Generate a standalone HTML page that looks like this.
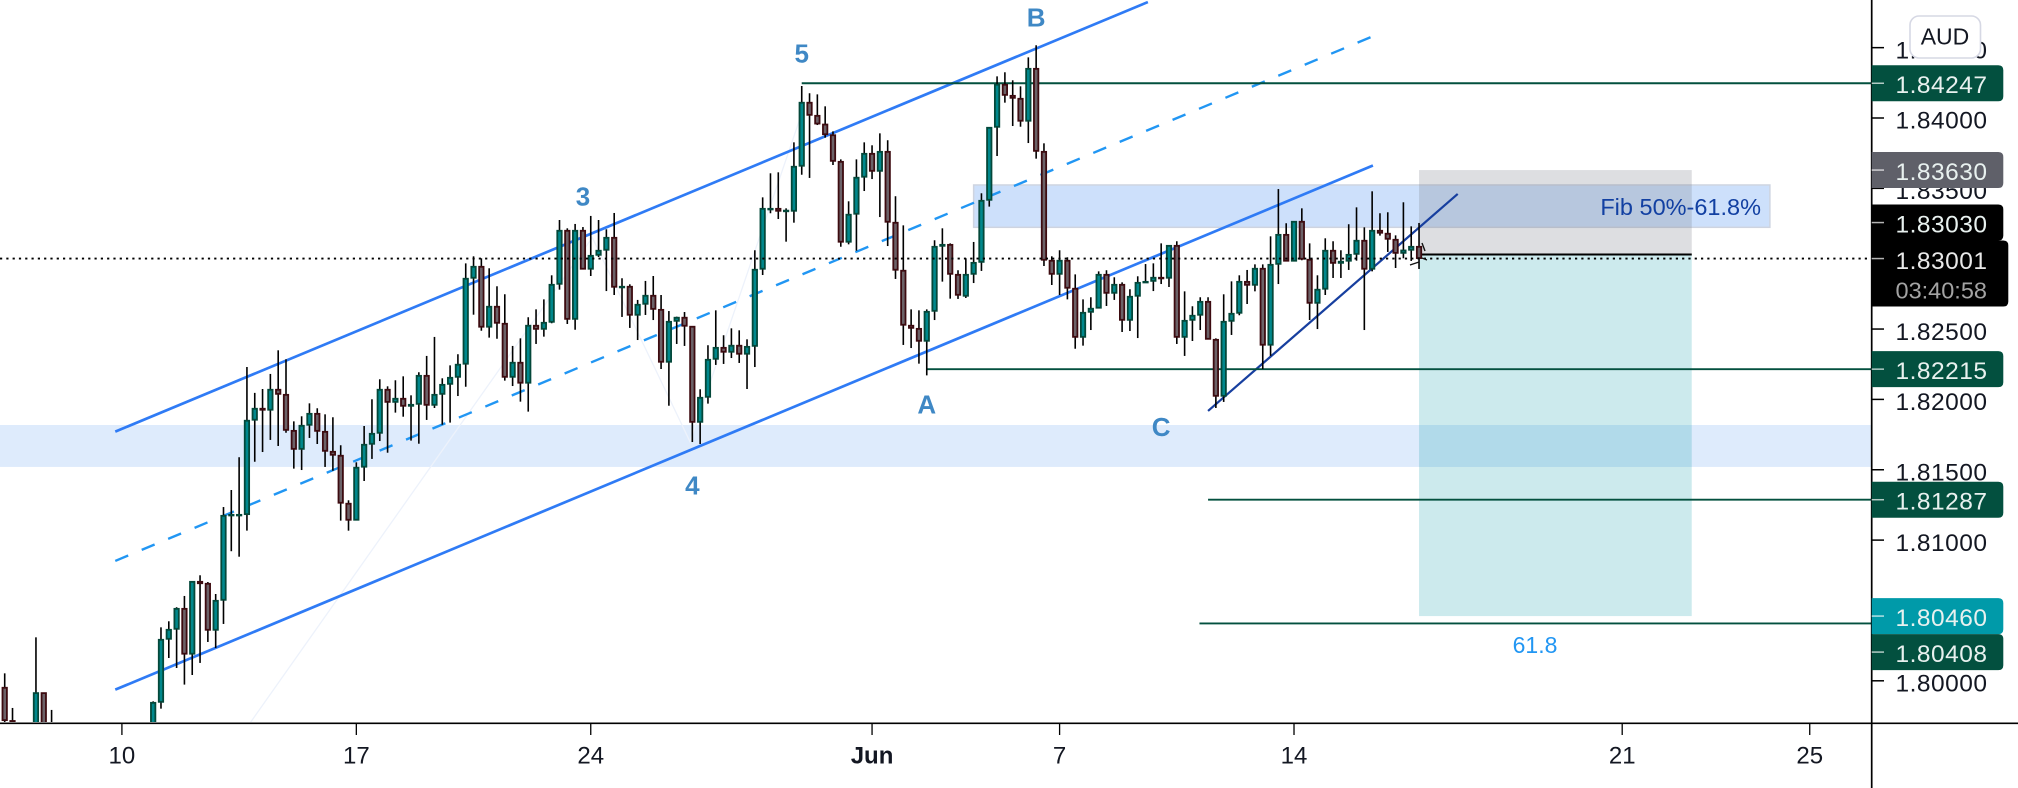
<!DOCTYPE html>
<html lang="en">
<head>
<meta charset="utf-8">
<title>AUD candlestick chart</title>
<style>
html,body{margin:0;padding:0;background:#fff;width:2018px;height:788px;overflow:hidden}
svg{display:block;font-family:"Liberation Sans",sans-serif}
</style>
</head>
<body>
<svg id="chart" width="2018" height="788" viewBox="0 0 2018 788" xmlns="http://www.w3.org/2000/svg">
  <defs>
    <clipPath id="plot-clip"><rect x="0" y="0" width="1871" height="722"></rect></clipPath>
  </defs>
</svg>
<script>
const barOpen = [
1.79954,1.79718,null,null,1.79544,1.79916,1.79508,null,null,null,
null,null,null,null,null,null,null,null,null,1.79508,
1.79847,1.80295,1.80366,1.80515,1.80189,1.80707,1.80693,1.80359,1.80572,1.81176,
1.81178,1.81181,1.81852,1.81937,1.81923,1.82072,1.82036,1.81780,1.81645,1.81816,
1.81901,1.81773,1.81631,1.81603,1.81262,1.81141,1.81518,1.81681,1.81759,1.82072,
1.81979,1.82008,1.81951,1.81965,1.82171,1.81958,1.82036,1.82107,1.82157,1.82250,
1.82861,1.82946,1.82513,1.82662,1.82541,1.82157,1.82264,1.82115,1.82527,1.82498,
1.82548,1.82818,1.83202,1.82569,1.83202,1.82925,1.83024,1.83060,1.83152,1.82797,
1.82804,1.82598,1.82676,1.82740,1.82640,1.82264,1.82555,1.82584,1.82520,1.81837,
1.82015,1.82285,1.82370,1.82335,1.82385,1.82321,1.82377,1.82925,1.83351,1.83358,
1.83337,1.83337,1.83657,1.84112,1.84019,1.83957,1.83881,1.83692,1.83117,1.83316,
1.83579,1.83749,1.83621,1.83763,1.83259,1.82918,1.82527,1.82505,1.82413,1.82626,
1.83088,1.83102,1.82889,1.82733,1.82889,1.82974,1.83415,1.83934,1.84240,1.84161,
1.84140,1.83977,1.84353,1.83763,1.82989,1.82889,1.82989,1.82790,1.82441,1.82619,
1.82648,1.82889,1.82754,1.82818,1.82562,1.82733,1.82832,1.82839,1.82868,1.82861,
1.83095,1.82441,1.82562,1.82598,1.82697,1.82427,1.82022,1.82555,1.82612,1.82839,
1.82811,1.82932,1.82385,1.82960,1.83173,1.82982,1.83266,1.82996,1.82683,1.82783,
1.83060,1.82967,1.82982,1.83031,1.83131,1.82925,1.83202,1.83181,1.83138,1.83038,
1.83060,1.83088];
const barHigh = [
1.80053,1.79807,null,null,1.80309,1.79916,1.79793,null,null,null,
null,null,null,null,null,null,null,null,null,1.79854,
1.80380,1.80423,1.80523,1.80603,1.80707,1.80750,1.80702,1.80617,1.81235,1.81356,
1.81589,1.82230,1.82046,1.82074,1.82181,1.82349,1.82285,1.81844,1.81880,1.81972,
1.81937,1.81894,1.81873,1.81674,1.81283,1.81553,1.81811,1.82001,1.82143,1.82093,
1.82136,1.82164,1.82029,1.82193,1.82309,1.82444,1.82150,1.82242,1.82321,1.82967,
1.83017,1.83003,1.82932,1.82804,1.82747,1.82380,1.82434,1.82584,1.82640,1.82711,
1.82882,1.83275,1.83216,1.83247,1.83225,1.83304,1.83275,1.83209,1.83325,1.82861,
1.82818,1.82707,1.82842,1.82877,1.82742,1.82628,1.82588,1.82621,1.82520,1.82072,
1.82385,1.82633,1.82456,1.82505,1.82491,1.82427,1.83060,1.83436,1.83607,1.83614,
1.83358,1.83827,1.84227,1.84176,1.84168,1.84083,1.83905,1.83706,1.83408,1.83706,
1.83827,1.83806,1.83891,1.83842,1.83444,1.83237,1.82640,1.82633,1.82640,1.83131,
1.83216,1.83109,1.82918,1.83003,1.83119,1.83465,1.83936,1.84296,1.84325,1.84268,
1.84225,1.84431,1.84517,1.83820,1.83017,1.83060,1.83010,1.82889,1.82711,1.82726,
1.82910,1.82918,1.82868,1.82832,1.82783,1.82875,1.82962,1.82967,1.83109,1.83095,
1.83124,1.82768,1.82662,1.82726,1.82726,1.82434,1.82747,1.82839,1.82882,1.82920,
1.82960,1.82960,1.83159,1.83495,1.83252,1.83266,1.83358,1.83109,1.82882,1.83145,
1.83124,1.83060,1.83245,1.83365,1.83223,1.83479,1.83323,1.83330,1.83166,1.83401,
1.83230,1.83254];
const barLow = [
1.79615,1.79579,null,null,1.79437,1.79402,1.79366,null,null,null,
null,null,null,null,null,null,null,null,null,1.79437,
1.79802,1.80162,1.80091,1.79973,1.80041,1.80127,1.80276,1.80233,1.80404,1.80921,
1.80882,1.81067,1.81557,1.81626,1.81712,1.81669,1.81763,1.81508,1.81498,1.81726,
1.81683,1.81520,1.81493,1.81138,1.81067,1.81141,1.81420,1.81577,1.81704,1.81621,
1.81906,1.81877,1.81707,1.81685,1.81854,1.81939,1.81820,1.81835,1.82024,1.82090,
1.82602,1.82488,1.82439,1.82431,1.82133,1.82095,1.81984,1.81913,1.82394,1.82446,
1.82541,1.82780,1.82536,1.82495,1.82925,1.82877,1.83012,1.82770,1.82742,1.82586,
1.82508,1.82422,1.82600,1.82564,1.82216,1.81955,1.82394,1.82380,1.81697,1.81683,
1.81970,1.82245,1.82252,1.82294,1.82259,1.82074,1.82230,1.82884,1.83323,1.83282,
1.83121,1.83256,1.83597,1.83574,1.83950,1.83860,1.83666,1.83085,1.83102,1.83057,
1.83481,1.83566,1.83296,1.83090,1.82856,1.82387,1.82365,1.82254,1.82171,1.82564,
1.82837,1.82716,1.82714,1.82721,1.82827,1.82913,1.83370,1.83730,1.84109,1.83943,
1.83938,1.83822,1.83711,1.82948,1.82813,1.82742,1.82711,1.82360,1.82382,1.82493,
1.82648,1.82664,1.82707,1.82479,1.82486,1.82436,1.82832,1.82770,1.82820,1.82799,
1.82394,1.82309,1.82415,1.82493,1.82427,1.81939,1.81982,1.82458,1.82598,1.82678,
1.82768,1.82216,1.82309,1.82820,1.82982,1.82982,1.82989,1.82564,1.82500,1.82742,
1.82863,1.82863,1.82920,1.82986,1.82493,1.82910,1.83164,1.83048,1.82934,1.83003,
1.82984,1.82927];
const barClose = [
1.79717,1.79700,null,null,1.79916,1.79508,1.79651,null,null,null,
null,null,null,null,null,null,null,null,null,1.79847,
1.80295,1.80366,1.80515,1.80189,1.80707,1.80690,1.80359,1.80572,1.81176,1.81183,
1.81183,1.81852,1.81937,1.81923,1.82072,1.82036,1.81780,1.81645,1.81816,1.81901,
1.81773,1.81631,1.81603,1.81262,1.81141,1.81518,1.81681,1.81759,1.82072,1.81979,
1.82008,1.81951,1.81965,1.82171,1.81958,1.82036,1.82107,1.82157,1.82250,1.82861,
1.82946,1.82513,1.82662,1.82541,1.82157,1.82264,1.82115,1.82527,1.82498,1.82548,
1.82818,1.83202,1.82569,1.83202,1.82925,1.83024,1.83060,1.83152,1.82797,1.82804,
1.82598,1.82676,1.82740,1.82640,1.82264,1.82555,1.82584,1.82520,1.81837,1.82015,
1.82285,1.82370,1.82335,1.82385,1.82321,1.82377,1.82925,1.83358,1.83358,1.83337,
1.83345,1.83657,1.84112,1.84019,1.83957,1.83881,1.83692,1.83117,1.83316,1.83579,
1.83749,1.83621,1.83763,1.83259,1.82918,1.82527,1.82505,1.82413,1.82626,1.83088,
1.83102,1.82889,1.82740,1.82889,1.82974,1.83415,1.83934,1.84240,1.84161,1.84140,
1.83977,1.84353,1.83763,1.82989,1.82889,1.82989,1.82790,1.82441,1.82619,1.82648,
1.82889,1.82754,1.82818,1.82562,1.82733,1.82832,1.82839,1.82868,1.82861,1.83095,
1.82441,1.82562,1.82598,1.82697,1.82427,1.82022,1.82555,1.82612,1.82839,1.82811,
1.82932,1.82385,1.82960,1.83173,1.82982,1.83266,1.82996,1.82683,1.82783,1.83060,
1.82967,1.82982,1.83031,1.83131,1.82925,1.83202,1.83181,1.83138,1.83038,1.83062,
1.83088,1.83001];

const priceTicks = ["1.84500","1.84000","1.83500","1.83000","1.82500","1.82000","1.81500","1.81000","1.80000"];
const timeTickBars = [15,45,75,111,135,165,207,231];
const timeTickLabels = ["10","17","24","Jun","7","14","21","25"];
const lastPrice = 1.83001;
const countdown = "03:40:58";
const tagPrices = [1.84247,1.83630,1.83030,1.82215,1.81287,1.80460,1.80408];
const levelPrices = [1.84247,1.82215,1.81287,1.80408];
const levelStartBars = [102,118,154,152.9];
const channelUpperBars = [14.15,146.3];
const channelUpperPrices = [1.81771,1.84824];
const channelLowerBars = [14.15,175.1];
const channelLowerPrices = [1.79937,1.83662];
const channelMidBars = [14.15,174.8];
const channelMidPrices = [1.80852,1.84574];
const wedgeBars = [154,185.95];
const wedgePrices = [1.81918,1.83460];
const waveBars = [31.4,75.2,87.7,101.8];
const wavePrices = [1.79700,1.83150,1.81700,1.84000];
const bandPrices = [1.81818,1.81520];
const fibBars = [124,225.9];
const fibPrices = [1.83524,1.83223];
const positionBars = [181,215.9];
const positionPrices = [1.83630,1.83030,1.80460];
const waveLabels = ["B","5","3","4","A","C"];
const waveLabelBars = [132,102,74,88,118,148];
const waveLabelPrices = [1.84650,1.84394,1.83378,1.81324,1.81900,1.81740];

const NS = "http://www.w3.org/2000/svg";
const svg = document.getElementById("chart");
const xOfBar = i => 4.7 + 7.814 * i;
const yOfPrice = p => 118 + (1.84 - p) * 14070;
const AXIS_X = 1871.7, AXIS_Y = 723.3;

function mk(tag, attrs, parent) {
  const el = document.createElementNS(NS, tag);
  for (const k in attrs) el.setAttribute(k, attrs[k]);
  (parent || svg).appendChild(el);
  return el;
}
function group(clip) {
  const g = mk("g", clip ? {"clip-path": "url(#plot-clip)"} : {});
  return g;
}
function zone(x0, x1, p0, p1, fill, stroke, parent) {
  const attrs = {x: x0, y: yOfPrice(p0), width: x1 - x0, height: yOfPrice(p1) - yOfPrice(p0), fill: fill};
  if (stroke) { attrs.stroke = stroke; attrs["stroke-width"] = 1.5; }
  return mk("rect", attrs, parent);
}

/* zones */
const zones = group(true);
const band = zone(0, AXIS_X, bandPrices[0], bandPrices[1], "#deebfc", null, zones);


const fibBox = zone(xOfBar(fibBars[0]), xOfBar(fibBars[1]), fibPrices[0], fibPrices[1], "#cde0fb", "#ced4e0", zones);


const stopBox = zone(xOfBar(positionBars[0]), xOfBar(positionBars[1]), positionPrices[0], positionPrices[1], "rgba(120,123,134,.25)", null, zones);


const targetBox = zone(xOfBar(positionBars[0]), xOfBar(positionBars[1]), positionPrices[1], positionPrices[2], "rgba(0,151,167,.2)", null, zones);



/* faint wave line */
const wavePts = waveBars.map((b, i) => xOfBar(b) + "," + yOfPrice(wavePrices[i])).join(" ");
const wave = mk("polyline", {points: wavePts, fill: "none", stroke: "#edf2fb", "stroke-width": 1.3}, zones);



/* trend lines */
function trend(bars, prices, color, width, dash, parent) {
  const attrs = {x1: xOfBar(bars[0]), y1: yOfPrice(prices[0]), x2: xOfBar(bars[1]), y2: yOfPrice(prices[1]), stroke: color, "stroke-width": width};
  if (dash) attrs["stroke-dasharray"] = dash;
  return mk("line", attrs, parent);
}
const chUp = trend(channelUpperBars, channelUpperPrices, "#2f7bf5", 2.7, null, zones);


const chLow = trend(channelLowerBars, channelLowerPrices, "#2f7bf5", 2.7, null, zones);


const chMid = trend(channelMidBars, channelMidPrices, "#2196f3", 2.4, "14 14.64", zones);


const wedge = trend(wedgeBars, wedgePrices, "#173f9f", 2.2, null, zones);



/* horizontal levels */
levelPrices.forEach((p, i) => {
  const l = mk("line", {x1: xOfBar(levelStartBars[i]), x2: AXIS_X, y1: yOfPrice(p), y2: yOfPrice(p), stroke: "#03503f", "stroke-width": 1.9}, zones);
  
  
});

/* entry line */
const entry = mk("line", {x1: xOfBar(positionBars[0]), x2: xOfBar(positionBars[1]), y1: yOfPrice(positionPrices[1]), y2: yOfPrice(positionPrices[1]), stroke: "#000", "stroke-width": 2}, zones);



/* candles */
const candleLayer = group(true);
barOpen.forEach((o, i) => {
  if (o === null) return;
  const c = barClose[i], x = xOfBar(i);
  const up = c >= o;
  const g = mk("g", {}, candleLayer);
  
  
  mk("line", {x1: x, x2: x, y1: yOfPrice(barHigh[i]), y2: yOfPrice(barLow[i]), stroke: "#000", "stroke-width": 1.6}, g);
  const top = yOfPrice(Math.max(o, c)), bot = yOfPrice(Math.min(o, c));
  mk("rect", {x: x - 2.2, y: top + 0.5, width: 4.4, height: Math.max(bot - top - 1, 0.6),
    fill: up ? "#00888c" : "#6c6268", stroke: up ? "#04483a" : "#3d0b10", "stroke-width": 1.8}, g);
});

/* last price dotted line */
const lastLine = mk("line", {x1: 0, x2: AXIS_X, y1: yOfPrice(lastPrice), y2: yOfPrice(lastPrice), stroke: "#000", "stroke-width": 1.8, "stroke-dasharray": "2.2 4.1"});



/* arrow marker at last bar */
const arrow = mk("path", {d: "M1410 265L1419 262M1422 243L1425 251M1422 258L1427 260", stroke: "#111", "stroke-width": 1.4, fill: "none"});



/* wave labels */
waveLabels.forEach((t, i) => {
  const el = mk("text", {x: xOfBar(waveLabelBars[i]), y: yOfPrice(waveLabelPrices[i]), "text-anchor": "middle", "font-size": 26, "font-weight": "bold", fill: "#3f88c5"});
  el.textContent = t;
  
  
});

/* drawing text */
const fibText = mk("text", {x: 1761, y: 215, "text-anchor": "end", "font-size": 23.5, fill: "#1240a2"});
fibText.textContent = "Fib 50%-61.8%";


const ratioText = mk("text", {x: 1535, y: 653, "text-anchor": "middle", "font-size": 23, fill: "#2196f3"});
ratioText.textContent = "61.8";



/* axes */
const xAxis = mk("line", {x1: 0, x2: 2018, y1: AXIS_Y, y2: AXIS_Y, stroke: "#000", "stroke-width": 1.7});


const yAxis = mk("line", {x1: AXIS_X, x2: AXIS_X, y1: 0, y2: 788, stroke: "#000", "stroke-width": 1.7});



timeTickBars.forEach((b, i) => {
  const x = xOfBar(b);
  const t = mk("line", {x1: x, x2: x, y1: AXIS_Y, y2: 735, stroke: "#000", "stroke-width": 1.3});
  
  
  const bold = timeTickLabels[i] === "Jun";
  const lab = mk("text", {x: x, y: 763.5, "text-anchor": "middle", "font-size": 24, fill: "#131722", "font-weight": bold ? "bold" : "normal"});
  lab.textContent = timeTickLabels[i];
  
  
});

priceTicks.forEach(s => {
  const y = yOfPrice(parseFloat(s));
  const t = mk("line", {x1: AXIS_X, x2: 1884, y1: y, y2: y, stroke: "#000", "stroke-width": 1.5});
  
  
  const lab = mk("text", {x: 1895.5, y: y + 10.7, "font-size": 24.5, "letter-spacing": 0.5, fill: "#131722"});
  lab.textContent = s;
  
  
});

/* price tags */
function tagShape(y0, y1, x1, fill) {
  const r = 5, x0 = AXIS_X;
  return mk("path", {d: `M${x0} ${y0}H${x1 - r}Q${x1} ${y0} ${x1} ${y0 + r}V${y1 - r}Q${x1} ${y1} ${x1 - r} ${y1}H${x0}Z`, fill: fill});
}
function tagFill(p) {
  if (p === positionPrices[0]) return "#5f6069";
  if (p === positionPrices[1]) return "#000000";
  if (p === positionPrices[2]) return "#009aa9";
  return "#03503f";
}
const lastY = yOfPrice(lastPrice);
const placed = [[lastY - 18, lastY + 48], [yOfPrice(positionPrices[2]) - 18, yOfPrice(positionPrices[2]) + 18]];
tagPrices.forEach(p => {
  const natural = yOfPrice(p);
  let cy = natural;
  if (p !== positionPrices[2]) {
    placed.forEach(b => {
      if (cy - 18 < b[1] && cy + 18 > b[0]) {
        cy = natural < (b[0] + b[1]) / 2 && p > lastPrice ? b[0] - 18 : b[1] + 18;
      }
    });
  }
  const shape = tagShape(cy - 18, cy + 18, 2003.3, tagFill(p));
  
  
  const tick = mk("line", {x1: AXIS_X, x2: 1884, y1: cy, y2: cy, stroke: "rgba(255,255,255,.7)", "stroke-width": 1.5});
  
  
  const lab = mk("text", {x: 1895.5, y: cy + 10, "font-size": 24.5, "letter-spacing": 0.5, fill: "#e8f1ef"});
  lab.textContent = p.toFixed(5);
  
  
});

/* last price tag with countdown */
const lastShape = tagShape(lastY - 18, lastY + 48, 2008.3, "#000");


const lastTick = mk("line", {x1: AXIS_X, x2: 1884, y1: lastY, y2: lastY, stroke: "rgba(255,255,255,.7)", "stroke-width": 1.5});


const lastLab = mk("text", {x: 1895.5, y: lastY + 10.5, "font-size": 24.5, "letter-spacing": 0.5, fill: "#e8e8e8"});
lastLab.textContent = lastPrice.toFixed(5);


const cdLab = mk("text", {x: 1895.5, y: lastY + 40, "font-size": 23.5, fill: "#a3a3a3"});
cdLab.textContent = countdown;



/* currency button */
const audBtn = mk("rect", {x: 1910, y: 16, width: 70.5, height: 42, rx: 9, fill: "#fff", stroke: "#d6d8e4", "stroke-width": 1.6});


const audText = mk("text", {x: 1945, y: 44.5, "text-anchor": "middle", "font-size": 23, fill: "#131722"});
audText.textContent = "AUD";


</script>
</body>
</html>
